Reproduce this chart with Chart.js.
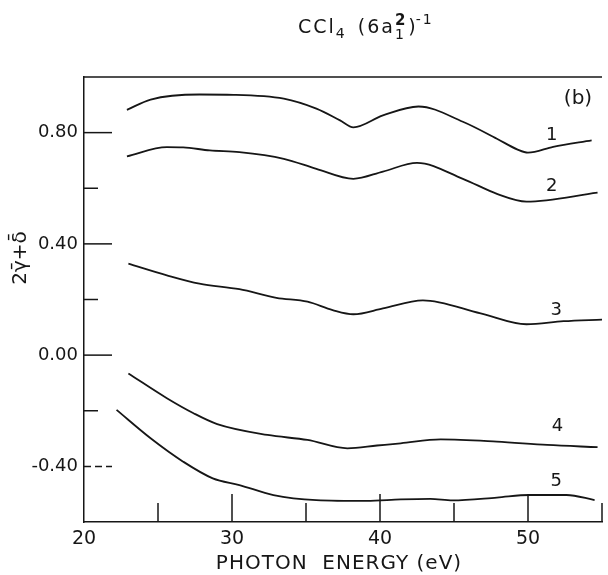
<!DOCTYPE html>
<html lang="en">
  <head>
    <meta charset="UTF-8" />
    <title>CCl4 (6a1^2)^-1</title>
    <script src="https://cdn.jsdelivr.net/npm/chart.js@4.4.1/dist/chart.umd.min.js"></script>
    <style>
      body {
        margin: 0;
        background-color: #fff;
      }
      #wrap {
        width: 608px;
        height: 575px;
      }
    </style>
  </head>
  <body>
    <div id="wrap">
      <canvas id="chart" width="608" height="575"></canvas>
    </div>
    <script>
      // photon energy (eV) and 2γ̄+δ̄ values
      const curve1X = [22.9, 24.5, 27.8, 30.1, 33.5, 35.7, 37.3, 38.2, 40.2, 42.6, 45.6, 47.9, 49.3, 50.0, 51.7, 54.3]
      const curve1Y = [0.882, 0.919, 0.937, 0.936, 0.922, 0.886, 0.844, 0.819, 0.862, 0.894, 0.839, 0.778, 0.739, 0.728, 0.749, 0.772]

      const curve2X = [22.9, 25.6, 26.7, 28.5, 30.5, 33.5, 35.7, 38.2, 40.2, 42.5, 45.6, 47.9, 49.9, 54.7]
      const curve2Y = [0.715, 0.748, 0.747, 0.736, 0.730, 0.706, 0.670, 0.634, 0.660, 0.691, 0.634, 0.580, 0.552, 0.584]

      const curve3X = [23.0, 25.6, 27.8, 30.5, 33.0, 35.1, 36.8, 38.2, 40.2, 42.9, 46.8, 49.9, 52.4, 55.0]
      const curve3Y = [0.329, 0.287, 0.257, 0.237, 0.206, 0.192, 0.162, 0.147, 0.168, 0.197, 0.150, 0.111, 0.122, 0.128]

      const curve4X = [23.0, 25.6, 27.4, 29.0, 32.4, 35.1, 37.8, 39.8, 41.4, 44.1, 47.9, 51.3, 54.7]
      const curve4Y = [-0.066, -0.155, -0.209, -0.248, -0.287, -0.305, -0.335, -0.325, -0.317, -0.303, -0.311, -0.323, -0.331]

      const curve5X = [22.2, 24.5, 26.7, 28.7, 30.5, 32.8, 35.7, 39.1, 41.4, 43.4, 44.9, 47.9, 50.1, 52.6, 54.5]
      const curve5Y = [-0.197, -0.299, -0.383, -0.443, -0.467, -0.503, -0.521, -0.524, -0.519, -0.517, -0.522, -0.512, -0.503, -0.503, -0.521]

      // curve numbers and where they sit (data units)
      const curveNames = ['1', '2', '3', '4', '5']
      const nameX = [51.6, 51.6, 51.9, 52.0, 51.9]
      const nameY = [0.79, 0.606, 0.16, -0.256, -0.453]

      // inward tick marks
      const xMajorTicks = [30, 40, 50]
      const xMinorTicks = [25, 35, 45, 55]
      const yMajorTicks = [0.8, 0.4, 0.0, -0.4]
      const yMinorTicks = [0.6, 0.2, -0.2]

      const ink = '#161616'
      const font = 'DejaVu Sans, sans-serif'

      const toPoints = (xs, ys) => xs.map((x, i) => ({ x: x, y: ys[i] }))

      const curves = [
        [curve1X, curve1Y],
        [curve2X, curve2Y],
        [curve3X, curve3Y],
        [curve4X, curve4Y],
        [curve5X, curve5Y]
      ]

      // draws text piece by piece, returns the x after it
      function piece(ctx, text, x, y, size, weight) {
        ctx.font = (weight || '') + ' ' + size + 'px ' + font
        ctx.fillText(text, x, y)
        return x + ctx.measureText(text).width
      }

      function drawTitle(ctx) {
        ctx.textAlign = 'left'
        ctx.textBaseline = 'alphabetic'
        ctx.letterSpacing = '2px'
        const base = 33
        let x = 298
        x = piece(ctx, 'CCl', x, base, 19)
        x = piece(ctx, '4', x, base + 5, 14)
        x = piece(ctx, ' (6a', x + 3, base, 19)
        piece(ctx, '1', x, base + 6, 14)
        x = piece(ctx, '2', x, base - 8, 15, 'bold')
        x = piece(ctx, ')', x + 1, base, 19)
        piece(ctx, '-1', x - 2, base - 9, 14)
        ctx.letterSpacing = '0px'
      }

      const decorations = {
        id: 'decorations',
        afterDraw(chart) {
          const ctx = chart.ctx
          const area = chart.chartArea
          const xs = chart.scales.x
          const ys = chart.scales.y
          ctx.save()
          ctx.strokeStyle = ink
          ctx.fillStyle = ink
          ctx.lineWidth = 1.5

          // top frame line
          ctx.beginPath()
          ctx.moveTo(area.left, area.top)
          ctx.lineTo(area.right, area.top)
          ctx.stroke()

          // x ticks pointing up into the plot
          const xTick = (v, len) => {
            const px = xs.getPixelForValue(v)
            ctx.beginPath()
            ctx.moveTo(px, area.bottom)
            ctx.lineTo(px, area.bottom - len)
            ctx.stroke()
          }
          xMajorTicks.forEach(v => xTick(v, 28))
          xMinorTicks.forEach(v => xTick(v, 19))

          // y ticks pointing right into the plot
          const yTick = (v, len, dashed) => {
            const py = ys.getPixelForValue(v)
            ctx.setLineDash(dashed ? [7, 4] : [])
            ctx.beginPath()
            ctx.moveTo(area.left, py)
            ctx.lineTo(area.left + len, py)
            ctx.stroke()
          }
          yMajorTicks.forEach(v => yTick(v, 28, v < 0))
          yMinorTicks.forEach(v => yTick(v, 14, false))
          ctx.setLineDash([])

          // curve numbers
          ctx.textAlign = 'center'
          ctx.textBaseline = 'middle'
          ctx.font = '18px ' + font
          curveNames.forEach((name, i) => {
            ctx.fillText(name, xs.getPixelForValue(nameX[i]), ys.getPixelForValue(nameY[i]))
          })

          // panel tag
          ctx.font = '20px ' + font
          ctx.fillText('(b)', 578, 99)

          drawTitle(ctx)

          // x axis title
          ctx.textAlign = 'center'
          ctx.textBaseline = 'middle'
          ctx.font = '20px ' + font
          ctx.letterSpacing = '1px'
          ctx.fillText('PHOTON  ENERGY (eV)', 339, 564)
          ctx.letterSpacing = '0px'

          // y axis title
          ctx.translate(21, 258)
          ctx.rotate(-Math.PI / 2)
          ctx.font = '20px ' + font
          ctx.fillText('2γ̄+δ̄', 0, 0)
          ctx.restore()
        }
      }

      new Chart(document.getElementById('chart'), {
        type: 'line',
        data: {
          datasets: curves.map(c => ({
            data: toPoints(c[0], c[1]),
            borderColor: ink,
            borderWidth: 1.8,
            pointRadius: 0,
            fill: false,
            cubicInterpolationMode: 'monotone'
          }))
        },
        options: {
          responsive: false,
          animation: false,
          layout: { padding: { top: 77, right: 6, left: 0, bottom: 0 } },
          plugins: {
            legend: { display: false },
            tooltip: { enabled: false }
          },
          scales: {
            x: {
              type: 'linear',
              min: 20,
              max: 55,
              grid: { display: false, drawTicks: false },
              border: { display: true, color: ink, width: 1.5 },
              ticks: {
                stepSize: 5,
                padding: 6,
                color: ink,
                font: { family: font, size: 19 },
                maxRotation: 0,
                autoSkip: false,
                callback: v => (v % 10 === 0 ? String(v) : '')
              },
              afterFit: s => {
                s.height = 53
              }
            },
            y: {
              type: 'linear',
              min: -0.6,
              max: 1.0,
              grid: { display: false, drawTicks: false },
              border: { display: true, color: ink, width: 1.5 },
              ticks: {
                stepSize: 0.2,
                padding: 6,
                color: ink,
                font: { family: font, size: 18 },
                autoSkip: false,
                callback: v => {
                  const k = Math.round(v * 10)
                  if (k % 4 !== 0) return ''
                  return (k < 0 ? '-' : '') + Math.abs(k / 10).toFixed(2)
                }
              },
              afterFit: s => {
                s.width = 84
              }
            }
          }
        },
        plugins: [decorations]
      })
    </script>
  </body>
</html>
